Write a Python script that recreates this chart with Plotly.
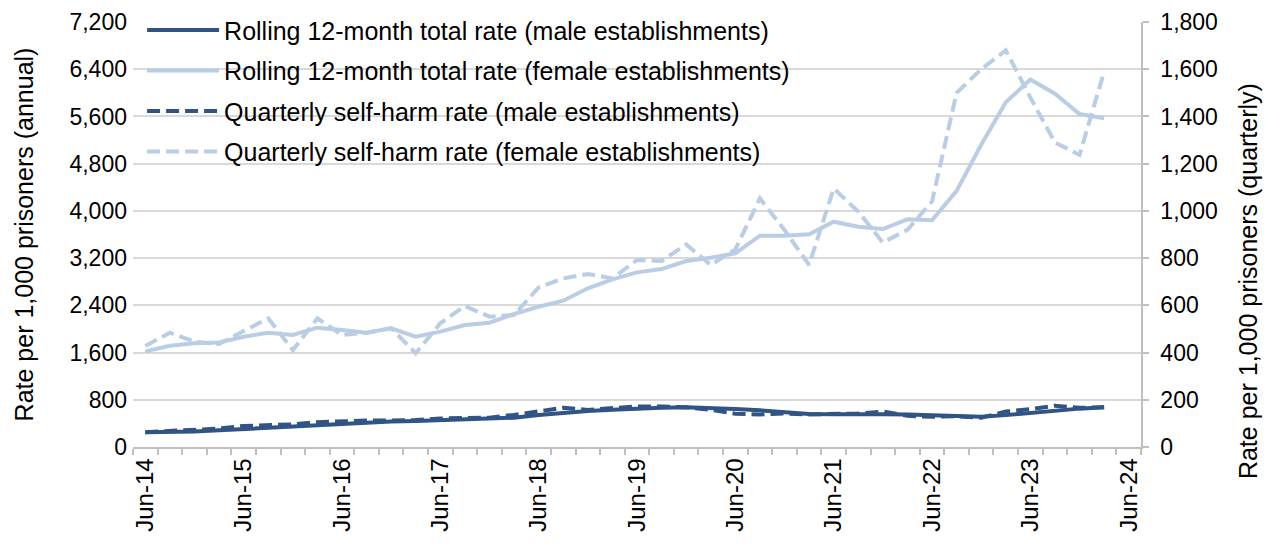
import plotly.graph_objects as go

# ---------------------------------------------------------
# Data
# ---------------------------------------------------------

QUARTERS = [
    "Jun-14", "Sep-14", "Dec-14", "Mar-15", "Jun-15", "Sep-15", "Dec-15", "Mar-16",
    "Jun-16", "Sep-16", "Dec-16", "Mar-17", "Jun-17", "Sep-17", "Dec-17", "Mar-18",
    "Jun-18", "Sep-18", "Dec-18", "Mar-19", "Jun-19", "Sep-19", "Dec-19", "Mar-20",
    "Jun-20", "Sep-20", "Dec-20", "Mar-21", "Jun-21", "Sep-21", "Dec-21", "Mar-22",
    "Jun-22", "Sep-22", "Dec-22", "Mar-23", "Jun-23", "Sep-23", "Dec-23", "Mar-24",
    "Jun-24",
]

# Rolling 12-month totals (left axis, annual rate)
male_rolling = [
    249, 249, 262, 282, 305, 330, 352, 375, 398, 414, 430, 440, 450, 465,
    475, 496, 542, 582, 610, 632, 655, 666, 672, 666, 644, 621, 599, 560,
    556, 560, 556, 550, 540, 530, 514, 540, 580, 618, 650, 672,
]
female_rolling = [
    1620, 1716, 1756, 1770, 1869, 1937, 1897, 2021, 1982, 1937, 2010, 1869, 1954, 2067,
    2106, 2253, 2377, 2479, 2688, 2840, 2959, 3015, 3151, 3207, 3281, 3580, 3580, 3603,
    3817, 3732, 3693, 3857, 3840, 4340, 5120, 5840, 6226, 5985, 5640, 5570,
]

# Quarterly self-harm rates (right axis, quarterly rate)
male_quarterly = [
    63, 68, 72, 78, 89, 91, 96, 105, 110, 112, 112, 114, 121, 124,
    124, 136, 152, 166, 157, 166, 172, 172, 168, 157, 141, 138, 142, 138,
    140, 142, 150, 132, 128, 130, 124, 150, 160, 175, 166, 168,
]
female_quarterly = [
    428, 484, 446, 436, 491, 545, 410, 545, 474, 484, 503, 397, 524, 597,
    552, 559, 676, 714, 733, 714, 792, 788, 858, 771, 837, 1053, 919, 771,
    1095, 997, 866, 920, 1040, 1500, 1600, 1680, 1480, 1290, 1237, 1590,
]

LEFT_TICKS = list(range(0, 7201, 800))
RIGHT_TICKS = list(range(0, 1801, 200))

LEFT_TITLE = "Rate per 1,000 prisoners (annual)"
RIGHT_TITLE = "Rate per 1,000 prisoners (quarterly)"

DARK = "#2F5485"
LIGHT = "#B9CDE5"
GRID = "#D9D9D9"
AXIS = "#BFBFBF"
FONT = "Arial, Liberation Sans, sans-serif"
DASH = "13px,6px"
TITLE_SIZE = 25

# ---------------------------------------------------------
# Figure
# ---------------------------------------------------------

n = len(male_rolling)
x_vals = QUARTERS[:n]

fig = go.Figure()

fig.add_trace(go.Scatter(
    x=x_vals, y=male_rolling, mode="lines",
    name="Rolling 12-month total rate (male establishments)",
    line=dict(color=DARK, width=4), legendgroup="a",
))
fig.add_trace(go.Scatter(
    x=x_vals, y=female_rolling, mode="lines",
    name="Rolling 12-month total rate (female establishments)",
    line=dict(color=LIGHT, width=4), legendgroup="b",
))
fig.add_trace(go.Scatter(
    x=x_vals, y=male_quarterly, mode="lines", yaxis="y2",
    name="Quarterly self-harm rate (male establishments)",
    line=dict(color=DARK, width=4, dash=DASH), legendgroup="c",
))
fig.add_trace(go.Scatter(
    x=x_vals, y=female_quarterly, mode="lines", yaxis="y2",
    name="Quarterly self-harm rate (female establishments)",
    line=dict(color=LIGHT, width=4, dash=DASH), legendgroup="d",
))

# Right-hand axis title sits a little below the middle, as in the original
fig.add_annotation(
    text=RIGHT_TITLE,
    xref="paper", yref="paper",
    x=1.106, y=0.39,
    xanchor="center", yanchor="middle",
    textangle=-90,
    showarrow=False,
    font=dict(family=FONT, size=TITLE_SIZE, color="#000000"),
)

# The page body adds an 8px offset, so the figure is sized to fit inside it.
fig.update_layout(
    width=1255,
    height=528,
    margin=dict(l=125, r=122, t=14, b=89, autoexpand=False),
    paper_bgcolor="white",
    plot_bgcolor="white",
    font=dict(family=FONT, size=23, color="#000000"),
    legend=dict(
        x=0.009, y=1.035, xanchor="left", yanchor="top",
        bgcolor="rgba(0,0,0,0)",
        font=dict(size=25),
        itemwidth=72,
        tracegroupgap=5,
    ),
    xaxis=dict(
        type="category",
        categoryorder="array",
        categoryarray=QUARTERS,
        range=[-0.5, len(QUARTERS) - 0.5],
        tickmode="array",
        tickvals=QUARTERS,
        ticktext=[q if q.startswith("Jun") else "" for q in QUARTERS],
        tickson="boundaries",
        tickangle=-90,
        ticks="outside",
        ticklen=6,
        tickcolor=AXIS,
        tickwidth=1.5,
        showline=True,
        linecolor=AXIS,
        linewidth=1.5,
        showgrid=False,
        tickfont=dict(size=24),
        automargin=False,
    ),
    yaxis=dict(
        range=[0, 7200],
        tickmode="array",
        tickvals=LEFT_TICKS,
        tickformat=",",
        showgrid=True,
        gridcolor=GRID,
        gridwidth=1.8,
        zeroline=False,
        showline=False,
        ticks="",
        ticklabelstandoff=5,
        automargin=False,
        title=dict(
            text=LEFT_TITLE, standoff=28,
            font=dict(family=FONT, size=TITLE_SIZE, color="#000000"),
        ),
    ),
    yaxis2=dict(
        overlaying="y",
        side="right",
        range=[0, 1800],
        tickmode="array",
        tickvals=RIGHT_TICKS,
        tickformat=",",
        showgrid=False,
        zeroline=False,
        showline=True,
        linecolor=AXIS,
        linewidth=1.5,
        ticks="outside",
        ticklen=6,
        tickcolor=AXIS,
        tickwidth=1.5,
        ticklabelstandoff=7,
        automargin=False,
    ),
)

fig.write_html("out.html")
